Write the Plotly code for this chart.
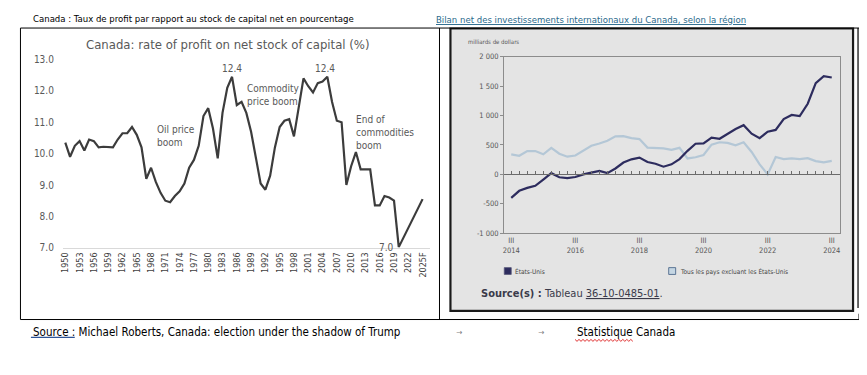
import plotly.graph_objects as go

# The page body has an 8px margin, so the figure is made 8px smaller and every
# reference pixel position is shifted by that margin.
PAGE_W, PAGE_H = 867, 375
OFF = 8
W, H = PAGE_W - OFF, PAGE_H - OFF


def px(x):
    return (x - OFF) / W


def py(y):
    return 1 - (y - OFF) / H


# ---------------- data: left chart (rate of profit, %) ----------------
years = list(range(1950, 2026))
profit_rate = [
    10.35, 9.9, 10.25, 10.4, 10.1, 10.45, 10.4, 10.2, 10.22, 10.2,      # 1950-1959
    10.2, 10.45, 10.65, 10.65, 10.85, 10.6, 10.2, 9.2, 9.55, 9.1,       # 1960-1969
    8.75, 8.5, 8.45, 8.65, 8.8, 9.05, 9.55, 9.8, 10.25, 11.2,           # 1970-1979
    11.45, 10.8, 9.85, 11.3, 12.1, 12.45, 11.55, 11.65, 11.3, 10.7,     # 1980-1989
    9.9, 9.05, 8.85, 9.3, 10.2, 10.85, 11.05, 11.1, 10.55, 11.55,       # 1990-1999
    12.4, 12.15, 11.95, 12.25, 12.3, 12.45, 11.65, 11.05, 11.0, 9.0,    # 2000-2009
    9.6, 10.05, 9.5, 9.5, 9.5, 8.35, 8.35, 8.65, 8.6, 8.5,              # 2010-2019
    7.02, None, None, None, None, 8.55,                                 # 2020-2025F
]
year_ticks = list(range(1950, 2026, 3))
year_tick_text = [str(y) for y in year_ticks[:-1]] + ["2025F"]
profit_ticks = [7, 8, 9, 10, 11, 12, 13]

# ---------------- data: right chart (net IIP by region, $ billions) ----------------
quarters = list(range(41))  # 2014 T3 ... 2024 T3
quarter_tick_vals = [0, 8, 16, 24, 32, 40]
quarter_tick_text = ["III<br>2014", "III<br>2016", "III<br>2018",
                     "III<br>2020", "III<br>2022", "III<br>2024"]
usa = [
    -400, -280, -230, -195, -90, 20, -50, -65, -45, 0,
    30, 60, 20, 100, 200, 255, 285, 210, 180, 130,
    170, 260, 400, 520, 525, 625, 605, 690, 770, 835,
    690, 615, 725, 755, 940, 1010, 990, 1200, 1550, 1670,
    1645,
]
others = [
    340, 315, 395, 395, 340, 450, 350, 300, 320, 410,
    485, 525, 570, 645, 650, 615, 600, 455, 450, 440,
    415, 450, 270, 290, 330, 505, 545, 535, 495, 545,
    380, 170, 0, 295, 260, 270, 260, 275, 225, 205,
    230,
]
iip_ticks = [-1000, -500, 0, 500, 1000, 1500, 2000]
iip_tick_text = ["-1 000", "-500", "0", "500", "1 000", "1 500", "2 000"]

# ---------------- styling ----------------
FONT = "Liberation Sans Narrow, DejaVu Sans Condensed, Arial Narrow, sans-serif"
GREY_TXT = "#595959"
NAVY = "#2d2c5e"
LIGHT = "#b4c7d6"

fig = go.Figure()

fig.add_trace(go.Scatter(
    x=years, y=profit_rate, mode="lines", connectgaps=True,
    line=dict(color="#3c3c3c", width=2.2),
    xaxis="x", yaxis="y", hoverinfo="skip", showlegend=False))

fig.add_trace(go.Scatter(
    x=quarters, y=others, mode="lines",
    line=dict(color=LIGHT, width=2.2),
    xaxis="x2", yaxis="y2", hoverinfo="skip", showlegend=False))

fig.add_trace(go.Scatter(
    x=quarters, y=usa, mode="lines",
    line=dict(color=NAVY, width=2.2),
    xaxis="x2", yaxis="y2", hoverinfo="skip", showlegend=False))

# invisible trace so that the zero-line tick axis is drawn
fig.add_trace(go.Scatter(
    x=quarters, y=usa, mode="lines", line=dict(width=0), opacity=0,
    xaxis="x3", yaxis="y2", hoverinfo="skip", showlegend=False))

# right chart geometry
y2_dom = [py(235), py(53)]
y2_range = [-1000, 2000]
zero_pos = y2_dom[0] + (0 - y2_range[0]) / (y2_range[1] - y2_range[0]) * (y2_dom[1] - y2_dom[0])
x2_range = [-0.87, 41.04]

fig.update_layout(
    width=W, height=H,
    margin=dict(l=0, r=0, t=0, b=0),
    paper_bgcolor="white", plot_bgcolor="white",
    showlegend=False,
    font=dict(family=FONT, color="#333333"),
    xaxis=dict(
        domain=[px(60.1), px(428.2)], range=[1949.5, 2026.5],
        tickvals=year_ticks, ticktext=year_tick_text, tickangle=-90,
        tickfont=dict(size=9, color="#404040", family=FONT),
        showline=True, linecolor="#d9d9d9", linewidth=1,
        showgrid=False, zeroline=False, ticks="", anchor="y", fixedrange=True,
    ),
    yaxis=dict(
        domain=[py(250), py(56)], range=[7, 13],
        tickvals=profit_ticks, tickformat=".1f",
        tickfont=dict(size=10, color=GREY_TXT, family=FONT),
        showgrid=False, zeroline=False, showline=False, ticks="",
        ticklabelstandoff=8, anchor="x", fixedrange=True,
    ),
    xaxis2=dict(
        domain=[px(503), px(840)], range=x2_range,
        tickvals=quarter_tick_vals, ticktext=quarter_tick_text,
        tickfont=dict(size=7.5, color="#555555", family=FONT),
        showline=True, mirror=True, linecolor="#8c8c8c", linewidth=1.2,
        showgrid=False, zeroline=False, ticks="", anchor="y2", fixedrange=True,
    ),
    yaxis2=dict(
        domain=y2_dom, range=y2_range,
        tickvals=iip_ticks, ticktext=iip_tick_text,
        tickfont=dict(size=7.5, color="#555555", family=FONT),
        showline=True, mirror=True, linecolor="#8c8c8c", linewidth=1.2,
        ticks="outside", ticklen=3, tickcolor="#8c8c8c",
        showgrid=False, zeroline=False, anchor="x2", fixedrange=True,
    ),
    xaxis3=dict(
        overlaying="x2", anchor="free", position=zero_pos, range=x2_range,
        tick0=0, dtick=1, ticks="inside", ticklen=3, tickcolor="#6b6b6b",
        showline=True, linecolor="#6b6b6b", linewidth=1,
        showticklabels=False, showgrid=False, zeroline=False, fixedrange=True,
    ),
)

# ---------------- shapes (document frame, panels) ----------------
shapes = []


def pline(x0, y0, x1, y1, color="black", width=1):
    shapes.append(dict(type="line", xref="paper", yref="paper",
                       x0=px(x0), y0=py(y0), x1=px(x1), y1=py(y1),
                       line=dict(color=color, width=width), layer="above"))


# grey statcan panel
shapes.append(dict(type="rect", xref="paper", yref="paper",
                   x0=px(450), x1=px(852), y0=py(314), y1=py(25),
                   fillcolor="#e4e4e4", line=dict(width=0), layer="below"))
# statcan image dark border
shapes.append(dict(type="rect", xref="paper", yref="paper",
                   x0=px(449), x1=px(853), y0=py(315), y1=py(24),
                   fillcolor="rgba(0,0,0,0)", line=dict(color="#1a1a1a", width=2.2),
                   layer="above"))
# table frame
pline(17.5, 23.5, 859, 23.5)
pline(17.5, 23.5, 17.5, 324)
pline(438, 23.5, 438, 324)
pline(17.5, 324, 859, 324)
pline(858, 23.5, 858, 312, width=1.2)
pline(859, 318, 859, 324)

# legend swatches
shapes.append(dict(type="rect", xref="paper", yref="paper",
                   x0=px(503), x1=px(510), y0=py(277.5), y1=py(270.5),
                   fillcolor=NAVY, line=dict(color="#555577", width=0.8), layer="above"))
shapes.append(dict(type="rect", xref="paper", yref="paper",
                   x0=px(668), x1=px(675), y0=py(277.5), y1=py(270.5),
                   fillcolor="#c5d6e3", line=dict(color="#3d5a80", width=0.8), layer="above"))

# blue underline under "Source :"
pline(28, 342.5, 72, 342.5, color="#2f5597", width=1.2)
# red wavy spell-check underline under "Statistique"
pts = []
xw = 574.0
k = 0
while xw <= 633:
    pts.append((xw, 344.5 if k % 2 == 0 else 346.5))
    xw += 2
    k += 1
path = "M " + " L ".join(f"{px(a):.5f},{py(b):.5f}" for a, b in pts)
shapes.append(dict(type="path", xref="paper", yref="paper", path=path,
                   line=dict(color="#e03030", width=1), layer="above"))

fig.update_layout(shapes=shapes)

# ---------------- annotations ----------------
ann = []


def ptext(x, y, text, size, color="#000000", xanchor="left", yanchor="middle", align="left"):
    ann.append(dict(xref="paper", yref="paper", x=px(x), y=py(y), text=text,
                    showarrow=False, xanchor=xanchor, yanchor=yanchor, align=align,
                    font=dict(size=size, color=color, family=FONT)))


def dtext(x, y, text, xanchor="left", yanchor="top", yshift=0):
    ann.append(dict(xref="x", yref="y", x=x, y=y, text=text, showarrow=False,
                    xanchor=xanchor, yanchor=yanchor, align="left", yshift=yshift,
                    font=dict(size=10, color=GREY_TXT, family=FONT)))


# document captions
ptext(28, 14, "Canada : Taux de profit par rapport au stock de capital net en pourcentage", 9.5)
ptext(432, 15, "<u>Bilan net des investissements internationaux du Canada, selon la région</u>",
      9.5, color="#2a6a8c")

# left chart title and labels
ptext(226, 40, "Canada: rate of profit on net stock of capital (%)", 13, color=GREY_TXT,
      xanchor="center")
dtext(1985, 12.45, "12.4", xanchor="center", yanchor="bottom", yshift=1)
dtext(2004.5, 12.45, "12.4", xanchor="center", yanchor="bottom", yshift=1)
dtext(1968.9, 11.02, "Oil price<br>boom")
dtext(1987.8, 12.33, "Commodity<br>price boom")
dtext(2010.5, 11.33, "End of<br>commodities<br>boom")
dtext(2019.5, 7.0, "7.0", xanchor="right", yanchor="middle")

# right chart texts
ptext(465, 37, "milliards de dollars", 6, color="#555555")
ptext(512, 274, "États-Unis", 6.5, color="#444444")
ptext(677, 274, "Tous les pays excluant les États-Unis", 6.5, color="#444444")
ptext(478, 297, "<b>Source(s) :</b> Tableau <u>36-10-0485-01</u>.", 11, color="#3a3a4a")

# source line below the table
ptext(28, 337, "Source : Michael Roberts, Canada: election under the shadow of Trump", 11.5)
ptext(458, 337, "→", 8, color="#808080", xanchor="center")
ptext(540, 337, "→", 8, color="#808080", xanchor="center")
ptext(574, 337, "Statistique Canada", 11.5)
ptext(863, 325, ".", 10)

fig.update_layout(annotations=ann)

fig.write_html("out.html")
